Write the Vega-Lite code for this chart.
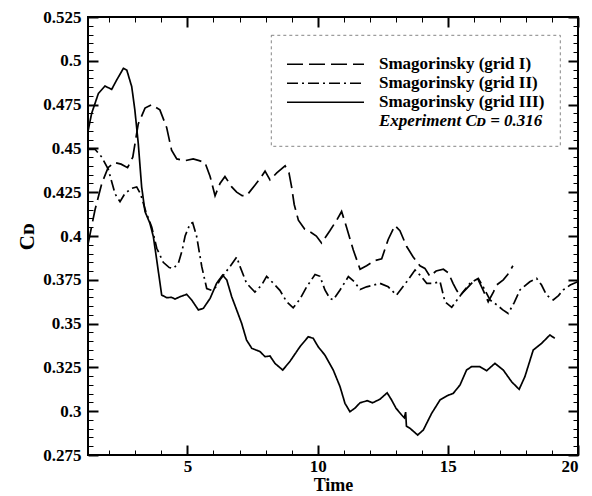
{
  "$schema": "https://vega.github.io/schema/vega-lite/v6.json",
  "width": 490,
  "height": 438,
  "autosize": {"type": "none"},
  "padding": {"left": 88, "top": 17, "right": 14, "bottom": 41},
  "background": "white",
  "config": {
    "view": {"stroke": "black", "strokeWidth": 2},
    "font": "Liberation Serif"
  },
  "datasets": {
    "cd": [
      {"s": "Smagorinsky (grid I)", "t": 1.19, "cd": 0.396},
      {"s": "Smagorinsky (grid I)", "t": 1.45, "cd": 0.415},
      {"s": "Smagorinsky (grid I)", "t": 1.71, "cd": 0.430},
      {"s": "Smagorinsky (grid I)", "t": 1.95, "cd": 0.439},
      {"s": "Smagorinsky (grid I)", "t": 2.2, "cd": 0.442},
      {"s": "Smagorinsky (grid I)", "t": 2.45, "cd": 0.441},
      {"s": "Smagorinsky (grid I)", "t": 2.7, "cd": 0.439},
      {"s": "Smagorinsky (grid I)", "t": 2.9, "cd": 0.445},
      {"s": "Smagorinsky (grid I)", "t": 3.11, "cd": 0.464},
      {"s": "Smagorinsky (grid I)", "t": 3.37, "cd": 0.473},
      {"s": "Smagorinsky (grid I)", "t": 3.63, "cd": 0.475},
      {"s": "Smagorinsky (grid I)", "t": 3.94, "cd": 0.472},
      {"s": "Smagorinsky (grid I)", "t": 4.2, "cd": 0.462},
      {"s": "Smagorinsky (grid I)", "t": 4.39, "cd": 0.449},
      {"s": "Smagorinsky (grid I)", "t": 4.59, "cd": 0.444},
      {"s": "Smagorinsky (grid I)", "t": 4.91, "cd": 0.443},
      {"s": "Smagorinsky (grid I)", "t": 5.22, "cd": 0.444},
      {"s": "Smagorinsky (grid I)", "t": 5.45, "cd": 0.443},
      {"s": "Smagorinsky (grid I)", "t": 5.67, "cd": 0.442},
      {"s": "Smagorinsky (grid I)", "t": 5.87, "cd": 0.434},
      {"s": "Smagorinsky (grid I)", "t": 6.06, "cd": 0.423},
      {"s": "Smagorinsky (grid I)", "t": 6.25, "cd": 0.430},
      {"s": "Smagorinsky (grid I)", "t": 6.44, "cd": 0.434},
      {"s": "Smagorinsky (grid I)", "t": 6.7, "cd": 0.428},
      {"s": "Smagorinsky (grid I)", "t": 6.89, "cd": 0.425},
      {"s": "Smagorinsky (grid I)", "t": 7.1, "cd": 0.423},
      {"s": "Smagorinsky (grid I)", "t": 7.27, "cd": 0.423},
      {"s": "Smagorinsky (grid I)", "t": 7.59, "cd": 0.429},
      {"s": "Smagorinsky (grid I)", "t": 7.8, "cd": 0.433},
      {"s": "Smagorinsky (grid I)", "t": 7.98, "cd": 0.437},
      {"s": "Smagorinsky (grid I)", "t": 8.17, "cd": 0.432},
      {"s": "Smagorinsky (grid I)", "t": 8.43, "cd": 0.436},
      {"s": "Smagorinsky (grid I)", "t": 8.75, "cd": 0.440},
      {"s": "Smagorinsky (grid I)", "t": 8.9, "cd": 0.436},
      {"s": "Smagorinsky (grid I)", "t": 9.0, "cd": 0.428},
      {"s": "Smagorinsky (grid I)", "t": 9.1, "cd": 0.418},
      {"s": "Smagorinsky (grid I)", "t": 9.26, "cd": 0.409},
      {"s": "Smagorinsky (grid I)", "t": 9.5, "cd": 0.404},
      {"s": "Smagorinsky (grid I)", "t": 9.75, "cd": 0.402},
      {"s": "Smagorinsky (grid I)", "t": 9.95, "cd": 0.400},
      {"s": "Smagorinsky (grid I)", "t": 10.15, "cd": 0.396},
      {"s": "Smagorinsky (grid I)", "t": 10.47, "cd": 0.403},
      {"s": "Smagorinsky (grid I)", "t": 10.73, "cd": 0.409},
      {"s": "Smagorinsky (grid I)", "t": 10.92, "cd": 0.414},
      {"s": "Smagorinsky (grid I)", "t": 11.11, "cd": 0.405},
      {"s": "Smagorinsky (grid I)", "t": 11.37, "cd": 0.392},
      {"s": "Smagorinsky (grid I)", "t": 11.63, "cd": 0.381},
      {"s": "Smagorinsky (grid I)", "t": 11.88, "cd": 0.383},
      {"s": "Smagorinsky (grid I)", "t": 12.2, "cd": 0.386},
      {"s": "Smagorinsky (grid I)", "t": 12.46, "cd": 0.387},
      {"s": "Smagorinsky (grid I)", "t": 12.71, "cd": 0.398},
      {"s": "Smagorinsky (grid I)", "t": 12.97, "cd": 0.406},
      {"s": "Smagorinsky (grid I)", "t": 13.16, "cd": 0.403},
      {"s": "Smagorinsky (grid I)", "t": 13.42, "cd": 0.394},
      {"s": "Smagorinsky (grid I)", "t": 13.67, "cd": 0.388},
      {"s": "Smagorinsky (grid I)", "t": 13.93, "cd": 0.383},
      {"s": "Smagorinsky (grid I)", "t": 14.12, "cd": 0.3815},
      {"s": "Smagorinsky (grid I)", "t": 14.31, "cd": 0.377},
      {"s": "Smagorinsky (grid I)", "t": 14.55, "cd": 0.380},
      {"s": "Smagorinsky (grid I)", "t": 14.83, "cd": 0.381},
      {"s": "Smagorinsky (grid I)", "t": 15.02, "cd": 0.379},
      {"s": "Smagorinsky (grid I)", "t": 15.2, "cd": 0.373},
      {"s": "Smagorinsky (grid I)", "t": 15.34, "cd": 0.369},
      {"s": "Smagorinsky (grid I)", "t": 15.47, "cd": 0.366},
      {"s": "Smagorinsky (grid I)", "t": 15.72, "cd": 0.370},
      {"s": "Smagorinsky (grid I)", "t": 15.98, "cd": 0.374},
      {"s": "Smagorinsky (grid I)", "t": 16.17, "cd": 0.375},
      {"s": "Smagorinsky (grid I)", "t": 16.36, "cd": 0.369},
      {"s": "Smagorinsky (grid I)", "t": 16.55, "cd": 0.3625},
      {"s": "Smagorinsky (grid I)", "t": 16.75, "cd": 0.368},
      {"s": "Smagorinsky (grid I)", "t": 16.87, "cd": 0.372},
      {"s": "Smagorinsky (grid I)", "t": 17.13, "cd": 0.375},
      {"s": "Smagorinsky (grid I)", "t": 17.3, "cd": 0.378},
      {"s": "Smagorinsky (grid I)", "t": 17.5, "cd": 0.383},

      {"s": "Smagorinsky (grid II)", "t": 1.19, "cd": 0.4495},
      {"s": "Smagorinsky (grid II)", "t": 1.45, "cd": 0.4495},
      {"s": "Smagorinsky (grid II)", "t": 1.71, "cd": 0.445},
      {"s": "Smagorinsky (grid II)", "t": 1.96, "cd": 0.438},
      {"s": "Smagorinsky (grid II)", "t": 2.22, "cd": 0.424},
      {"s": "Smagorinsky (grid II)", "t": 2.41, "cd": 0.4196},
      {"s": "Smagorinsky (grid II)", "t": 2.6, "cd": 0.4243},
      {"s": "Smagorinsky (grid II)", "t": 2.86, "cd": 0.4272},
      {"s": "Smagorinsky (grid II)", "t": 3.05, "cd": 0.428},
      {"s": "Smagorinsky (grid II)", "t": 3.2, "cd": 0.424},
      {"s": "Smagorinsky (grid II)", "t": 3.4, "cd": 0.414},
      {"s": "Smagorinsky (grid II)", "t": 3.63, "cd": 0.405},
      {"s": "Smagorinsky (grid II)", "t": 3.82, "cd": 0.393},
      {"s": "Smagorinsky (grid II)", "t": 4.07, "cd": 0.385},
      {"s": "Smagorinsky (grid II)", "t": 4.3, "cd": 0.382},
      {"s": "Smagorinsky (grid II)", "t": 4.46, "cd": 0.3815},
      {"s": "Smagorinsky (grid II)", "t": 4.65, "cd": 0.3844},
      {"s": "Smagorinsky (grid II)", "t": 4.8, "cd": 0.392},
      {"s": "Smagorinsky (grid II)", "t": 4.91, "cd": 0.400},
      {"s": "Smagorinsky (grid II)", "t": 5.1, "cd": 0.407},
      {"s": "Smagorinsky (grid II)", "t": 5.2, "cd": 0.4076},
      {"s": "Smagorinsky (grid II)", "t": 5.35, "cd": 0.400},
      {"s": "Smagorinsky (grid II)", "t": 5.55, "cd": 0.3825},
      {"s": "Smagorinsky (grid II)", "t": 5.74, "cd": 0.370},
      {"s": "Smagorinsky (grid II)", "t": 5.93, "cd": 0.369},
      {"s": "Smagorinsky (grid II)", "t": 6.1, "cd": 0.371},
      {"s": "Smagorinsky (grid II)", "t": 6.25, "cd": 0.375},
      {"s": "Smagorinsky (grid II)", "t": 6.45, "cd": 0.379},
      {"s": "Smagorinsky (grid II)", "t": 6.63, "cd": 0.3825},
      {"s": "Smagorinsky (grid II)", "t": 6.89, "cd": 0.388},
      {"s": "Smagorinsky (grid II)", "t": 7.02, "cd": 0.3825},
      {"s": "Smagorinsky (grid II)", "t": 7.27, "cd": 0.373},
      {"s": "Smagorinsky (grid II)", "t": 7.59, "cd": 0.368},
      {"s": "Smagorinsky (grid II)", "t": 7.85, "cd": 0.372},
      {"s": "Smagorinsky (grid II)", "t": 8.04, "cd": 0.377},
      {"s": "Smagorinsky (grid II)", "t": 8.3, "cd": 0.373},
      {"s": "Smagorinsky (grid II)", "t": 8.55, "cd": 0.369},
      {"s": "Smagorinsky (grid II)", "t": 8.81, "cd": 0.3625},
      {"s": "Smagorinsky (grid II)", "t": 9.06, "cd": 0.359},
      {"s": "Smagorinsky (grid II)", "t": 9.32, "cd": 0.364},
      {"s": "Smagorinsky (grid II)", "t": 9.58, "cd": 0.371},
      {"s": "Smagorinsky (grid II)", "t": 9.9, "cd": 0.378},
      {"s": "Smagorinsky (grid II)", "t": 10.09, "cd": 0.377},
      {"s": "Smagorinsky (grid II)", "t": 10.28, "cd": 0.3692},
      {"s": "Smagorinsky (grid II)", "t": 10.47, "cd": 0.3644},
      {"s": "Smagorinsky (grid II)", "t": 10.6, "cd": 0.3635},
      {"s": "Smagorinsky (grid II)", "t": 10.86, "cd": 0.3692},
      {"s": "Smagorinsky (grid II)", "t": 11.18, "cd": 0.3768},
      {"s": "Smagorinsky (grid II)", "t": 11.4, "cd": 0.374},
      {"s": "Smagorinsky (grid II)", "t": 11.63, "cd": 0.3695},
      {"s": "Smagorinsky (grid II)", "t": 11.88, "cd": 0.371},
      {"s": "Smagorinsky (grid II)", "t": 12.15, "cd": 0.372},
      {"s": "Smagorinsky (grid II)", "t": 12.39, "cd": 0.373},
      {"s": "Smagorinsky (grid II)", "t": 12.71, "cd": 0.371},
      {"s": "Smagorinsky (grid II)", "t": 13.03, "cd": 0.3663},
      {"s": "Smagorinsky (grid II)", "t": 13.42, "cd": 0.3739},
      {"s": "Smagorinsky (grid II)", "t": 13.74, "cd": 0.3806},
      {"s": "Smagorinsky (grid II)", "t": 13.93, "cd": 0.3777},
      {"s": "Smagorinsky (grid II)", "t": 14.19, "cd": 0.373},
      {"s": "Smagorinsky (grid II)", "t": 14.45, "cd": 0.373},
      {"s": "Smagorinsky (grid II)", "t": 14.7, "cd": 0.374},
      {"s": "Smagorinsky (grid II)", "t": 14.89, "cd": 0.3625},
      {"s": "Smagorinsky (grid II)", "t": 15.15, "cd": 0.3593},
      {"s": "Smagorinsky (grid II)", "t": 15.4, "cd": 0.3644},
      {"s": "Smagorinsky (grid II)", "t": 15.59, "cd": 0.3682},
      {"s": "Smagorinsky (grid II)", "t": 15.85, "cd": 0.373},
      {"s": "Smagorinsky (grid II)", "t": 16.17, "cd": 0.3758},
      {"s": "Smagorinsky (grid II)", "t": 16.36, "cd": 0.371},
      {"s": "Smagorinsky (grid II)", "t": 16.62, "cd": 0.3635},
      {"s": "Smagorinsky (grid II)", "t": 16.9, "cd": 0.3605},
      {"s": "Smagorinsky (grid II)", "t": 17.1, "cd": 0.358},
      {"s": "Smagorinsky (grid II)", "t": 17.32, "cd": 0.3558},
      {"s": "Smagorinsky (grid II)", "t": 17.55, "cd": 0.362},
      {"s": "Smagorinsky (grid II)", "t": 17.77, "cd": 0.3692},
      {"s": "Smagorinsky (grid II)", "t": 18.15, "cd": 0.3739},
      {"s": "Smagorinsky (grid II)", "t": 18.41, "cd": 0.3758},
      {"s": "Smagorinsky (grid II)", "t": 18.6, "cd": 0.372},
      {"s": "Smagorinsky (grid II)", "t": 18.79, "cd": 0.3663},
      {"s": "Smagorinsky (grid II)", "t": 19.05, "cd": 0.3635},
      {"s": "Smagorinsky (grid II)", "t": 19.25, "cd": 0.366},
      {"s": "Smagorinsky (grid II)", "t": 19.43, "cd": 0.3692},
      {"s": "Smagorinsky (grid II)", "t": 19.7, "cd": 0.372},
      {"s": "Smagorinsky (grid II)", "t": 20.0, "cd": 0.374},

      {"s": "Smagorinsky (grid III)", "t": 1.19, "cd": 0.4605},
      {"s": "Smagorinsky (grid III)", "t": 1.32, "cd": 0.470},
      {"s": "Smagorinsky (grid III)", "t": 1.58, "cd": 0.4814},
      {"s": "Smagorinsky (grid III)", "t": 1.83, "cd": 0.4856},
      {"s": "Smagorinsky (grid III)", "t": 2.09, "cd": 0.4837},
      {"s": "Smagorinsky (grid III)", "t": 2.28, "cd": 0.489},
      {"s": "Smagorinsky (grid III)", "t": 2.54, "cd": 0.4957},
      {"s": "Smagorinsky (grid III)", "t": 2.67, "cd": 0.4947},
      {"s": "Smagorinsky (grid III)", "t": 2.86, "cd": 0.4852},
      {"s": "Smagorinsky (grid III)", "t": 2.98, "cd": 0.4719},
      {"s": "Smagorinsky (grid III)", "t": 3.11, "cd": 0.4529},
      {"s": "Smagorinsky (grid III)", "t": 3.24, "cd": 0.4281},
      {"s": "Smagorinsky (grid III)", "t": 3.37, "cd": 0.4139},
      {"s": "Smagorinsky (grid III)", "t": 3.56, "cd": 0.4072},
      {"s": "Smagorinsky (grid III)", "t": 3.69, "cd": 0.3996},
      {"s": "Smagorinsky (grid III)", "t": 3.82, "cd": 0.3863},
      {"s": "Smagorinsky (grid III)", "t": 4.01, "cd": 0.3663},
      {"s": "Smagorinsky (grid III)", "t": 4.2, "cd": 0.3648},
      {"s": "Smagorinsky (grid III)", "t": 4.39, "cd": 0.365},
      {"s": "Smagorinsky (grid III)", "t": 4.52, "cd": 0.364},
      {"s": "Smagorinsky (grid III)", "t": 4.71, "cd": 0.3653},
      {"s": "Smagorinsky (grid III)", "t": 4.97, "cd": 0.3667},
      {"s": "Smagorinsky (grid III)", "t": 5.16, "cd": 0.3635},
      {"s": "Smagorinsky (grid III)", "t": 5.42, "cd": 0.3578},
      {"s": "Smagorinsky (grid III)", "t": 5.61, "cd": 0.3587},
      {"s": "Smagorinsky (grid III)", "t": 5.87, "cd": 0.3644},
      {"s": "Smagorinsky (grid III)", "t": 6.12, "cd": 0.373},
      {"s": "Smagorinsky (grid III)", "t": 6.35, "cd": 0.3777},
      {"s": "Smagorinsky (grid III)", "t": 6.51, "cd": 0.3749},
      {"s": "Smagorinsky (grid III)", "t": 6.7, "cd": 0.3653},
      {"s": "Smagorinsky (grid III)", "t": 6.89, "cd": 0.3578},
      {"s": "Smagorinsky (grid III)", "t": 7.08, "cd": 0.3502},
      {"s": "Smagorinsky (grid III)", "t": 7.27, "cd": 0.3406},
      {"s": "Smagorinsky (grid III)", "t": 7.47, "cd": 0.3359},
      {"s": "Smagorinsky (grid III)", "t": 7.79, "cd": 0.334},
      {"s": "Smagorinsky (grid III)", "t": 7.98, "cd": 0.3311},
      {"s": "Smagorinsky (grid III)", "t": 8.17, "cd": 0.3315},
      {"s": "Smagorinsky (grid III)", "t": 8.36, "cd": 0.3273},
      {"s": "Smagorinsky (grid III)", "t": 8.66, "cd": 0.3235},
      {"s": "Smagorinsky (grid III)", "t": 8.94, "cd": 0.3285},
      {"s": "Smagorinsky (grid III)", "t": 9.32, "cd": 0.3368},
      {"s": "Smagorinsky (grid III)", "t": 9.64, "cd": 0.3425},
      {"s": "Smagorinsky (grid III)", "t": 9.83, "cd": 0.3416},
      {"s": "Smagorinsky (grid III)", "t": 10.02, "cd": 0.3368},
      {"s": "Smagorinsky (grid III)", "t": 10.28, "cd": 0.332},
      {"s": "Smagorinsky (grid III)", "t": 10.6, "cd": 0.3235},
      {"s": "Smagorinsky (grid III)", "t": 10.86, "cd": 0.314},
      {"s": "Smagorinsky (grid III)", "t": 11.05, "cd": 0.3045},
      {"s": "Smagorinsky (grid III)", "t": 11.24, "cd": 0.2997},
      {"s": "Smagorinsky (grid III)", "t": 11.43, "cd": 0.3017},
      {"s": "Smagorinsky (grid III)", "t": 11.63, "cd": 0.3048},
      {"s": "Smagorinsky (grid III)", "t": 11.91, "cd": 0.306},
      {"s": "Smagorinsky (grid III)", "t": 12.11, "cd": 0.3048},
      {"s": "Smagorinsky (grid III)", "t": 12.39, "cd": 0.3068},
      {"s": "Smagorinsky (grid III)", "t": 12.67, "cd": 0.3105},
      {"s": "Smagorinsky (grid III)", "t": 12.84, "cd": 0.3064},
      {"s": "Smagorinsky (grid III)", "t": 13.01, "cd": 0.3017},
      {"s": "Smagorinsky (grid III)", "t": 13.23, "cd": 0.2978},
      {"s": "Smagorinsky (grid III)", "t": 13.33, "cd": 0.2962},
      {"s": "Smagorinsky (grid III)", "t": 13.38, "cd": 0.2995},
      {"s": "Smagorinsky (grid III)", "t": 13.41, "cd": 0.2915},
      {"s": "Smagorinsky (grid III)", "t": 13.55, "cd": 0.2902},
      {"s": "Smagorinsky (grid III)", "t": 13.84, "cd": 0.2864},
      {"s": "Smagorinsky (grid III)", "t": 14.06, "cd": 0.2893},
      {"s": "Smagorinsky (grid III)", "t": 14.38, "cd": 0.2988},
      {"s": "Smagorinsky (grid III)", "t": 14.7, "cd": 0.3064},
      {"s": "Smagorinsky (grid III)", "t": 15.0, "cd": 0.309},
      {"s": "Smagorinsky (grid III)", "t": 15.21, "cd": 0.3102},
      {"s": "Smagorinsky (grid III)", "t": 15.47, "cd": 0.315},
      {"s": "Smagorinsky (grid III)", "t": 15.72, "cd": 0.3235},
      {"s": "Smagorinsky (grid III)", "t": 15.91, "cd": 0.3254},
      {"s": "Smagorinsky (grid III)", "t": 16.23, "cd": 0.3254},
      {"s": "Smagorinsky (grid III)", "t": 16.49, "cd": 0.3231},
      {"s": "Smagorinsky (grid III)", "t": 16.81, "cd": 0.3273},
      {"s": "Smagorinsky (grid III)", "t": 17.13, "cd": 0.3235},
      {"s": "Smagorinsky (grid III)", "t": 17.45, "cd": 0.3168},
      {"s": "Smagorinsky (grid III)", "t": 17.74, "cd": 0.3125},
      {"s": "Smagorinsky (grid III)", "t": 17.96, "cd": 0.3197},
      {"s": "Smagorinsky (grid III)", "t": 18.28, "cd": 0.3349},
      {"s": "Smagorinsky (grid III)", "t": 18.6, "cd": 0.3387},
      {"s": "Smagorinsky (grid III)", "t": 18.92, "cd": 0.3435},
      {"s": "Smagorinsky (grid III)", "t": 19.11, "cd": 0.3416}
    ]
  },
  "data": {"name": "cd"},
  "resolve": {"axis": {"x": "independent", "y": "independent"}},
  "layer": [
    {
      "mark": {"type": "line", "color": "black", "strokeWidth": 1.7, "strokeCap": "butt", "clip": true},
      "encoding": {
        "x": {"field": "t", "type": "quantitative", "scale": {"domain": [1.18, 20], "nice": false, "zero": false},
          "axis": {"orient": "bottom", "values": [5, 10, 15, 20], "format": "d", "tickSize": -10, "tickWidth": 2, "tickColor": "black", "domain": false, "grid": false,
            "labelFont": "Liberation Serif", "labelFontWeight": "bold", "labelFontSize": 17, "labelColor": "black", "labelPadding": 13,
            "title": "Time", "titleFont": "Liberation Serif", "titleFontWeight": "bold", "titleFontSize": 18, "titleColor": "black", "titlePadding": 2}},
        "y": {"field": "cd", "type": "quantitative", "scale": {"domain": [0.275, 0.525], "nice": false, "zero": false},
          "axis": {"orient": "left", "values": [0.275, 0.3, 0.325, 0.35, 0.375, 0.4, 0.425, 0.45, 0.475, 0.5, 0.525], "format": ".3~f", "tickSize": -10, "tickWidth": 2, "tickColor": "black", "domain": false, "grid": false,
            "labelFont": "Liberation Serif", "labelFontWeight": "bold", "labelFontSize": 17, "labelColor": "black", "labelPadding": 17,
            "title": "Cᴅ", "titleFont": "Liberation Serif", "titleFontWeight": "bold", "titleFontSize": 21, "titleColor": "black", "titlePadding": 5}},
        "strokeDash": {"field": "s", "type": "nominal",
          "scale": {"domain": ["Smagorinsky (grid I)", "Smagorinsky (grid II)", "Smagorinsky (grid III)", "Experiment Cᴅ = 0.316"],
            "range": [[16, 6], [11, 4, 2, 4], [1, 0], [0, 1000]]},
          "legend": {"title": " ", "titleFontSize": 4, "titlePadding": 1, "orient": "top-right", "offset": 18, "symbolType": "stroke", "symbolSize": 5929, "symbolStrokeWidth": 1.7, "symbolStrokeColor": "black",
            "clipHeight": 18.5, "rowPadding": 0,
            "labelFont": "Liberation Serif", "labelFontWeight": "bold", "labelFontSize": 17, "labelColor": "black", "labelOffset": 14, "labelLimit": 0,
            "padding": 15, "strokeColor": "#666",
            "encode": {
              "legend": {"update": {"strokeDash": {"value": [3, 3]}, "strokeWidth": {"value": 0.8}}},
              "labels": {"update": {"fontStyle": {"signal": "indexof(datum.label, 'Experiment') >= 0 ? 'italic' : 'normal'"}}}
            }}}
      }
    },
    {
      "mark": {"type": "point", "opacity": 0},
      "encoding": {
        "x": {"field": "t", "type": "quantitative", "scale": {"domain": [1.18, 20], "nice": false, "zero": false},
          "axis": {"orient": "bottom", "values": [2, 3, 4, 6, 7, 8, 9, 11, 12, 13, 14, 16, 17, 18, 19], "labels": false, "tickSize": -5, "tickWidth": 1, "tickColor": "black", "domain": false, "grid": false, "title": null}},
        "y": {"field": "cd", "type": "quantitative", "scale": {"domain": [0.275, 0.525], "nice": false, "zero": false},
          "axis": {"orient": "left", "values": [0.28, 0.285, 0.29, 0.295, 0.305, 0.31, 0.315, 0.32, 0.33, 0.335, 0.34, 0.345, 0.355, 0.36, 0.365, 0.37, 0.38, 0.385, 0.39, 0.395, 0.405, 0.41, 0.415, 0.42, 0.43, 0.435, 0.44, 0.445, 0.455, 0.46, 0.465, 0.47, 0.48, 0.485, 0.49, 0.495, 0.505, 0.51, 0.515, 0.52], "labels": false, "tickSize": -5, "tickWidth": 1, "tickColor": "black", "domain": false, "grid": false, "title": null}}
      }
    },
    {
      "mark": {"type": "point", "opacity": 0},
      "encoding": {
        "x": {"field": "t", "type": "quantitative", "scale": {"domain": [1.18, 20], "nice": false, "zero": false},
          "axis": {"orient": "top", "values": [5, 10, 15, 20], "labels": false, "tickSize": -10, "tickWidth": 2, "tickColor": "black", "domain": false, "grid": false, "title": null}},
        "y": {"field": "cd", "type": "quantitative", "scale": {"domain": [0.275, 0.525], "nice": false, "zero": false},
          "axis": {"orient": "right", "values": [0.275, 0.3, 0.325, 0.35, 0.375, 0.4, 0.425, 0.45, 0.475, 0.5, 0.525], "labels": false, "tickSize": -10, "tickWidth": 2, "tickColor": "black", "domain": false, "grid": false, "title": null}}
      }
    },
    {
      "mark": {"type": "point", "opacity": 0},
      "encoding": {
        "x": {"field": "t", "type": "quantitative", "scale": {"domain": [1.18, 20], "nice": false, "zero": false},
          "axis": {"orient": "top", "values": [2, 3, 4, 6, 7, 8, 9, 11, 12, 13, 14, 16, 17, 18, 19], "labels": false, "tickSize": -5, "tickWidth": 1, "tickColor": "black", "domain": false, "grid": false, "title": null}},
        "y": {"field": "cd", "type": "quantitative", "scale": {"domain": [0.275, 0.525], "nice": false, "zero": false},
          "axis": {"orient": "right", "values": [0.28, 0.285, 0.29, 0.295, 0.305, 0.31, 0.315, 0.32, 0.33, 0.335, 0.34, 0.345, 0.355, 0.36, 0.365, 0.37, 0.38, 0.385, 0.39, 0.395, 0.405, 0.41, 0.415, 0.42, 0.43, 0.435, 0.44, 0.445, 0.455, 0.46, 0.465, 0.47, 0.48, 0.485, 0.49, 0.495, 0.505, 0.51, 0.515, 0.52], "labels": false, "tickSize": -5, "tickWidth": 1, "tickColor": "black", "domain": false, "grid": false, "title": null}}
      }
    }
  ]
}
